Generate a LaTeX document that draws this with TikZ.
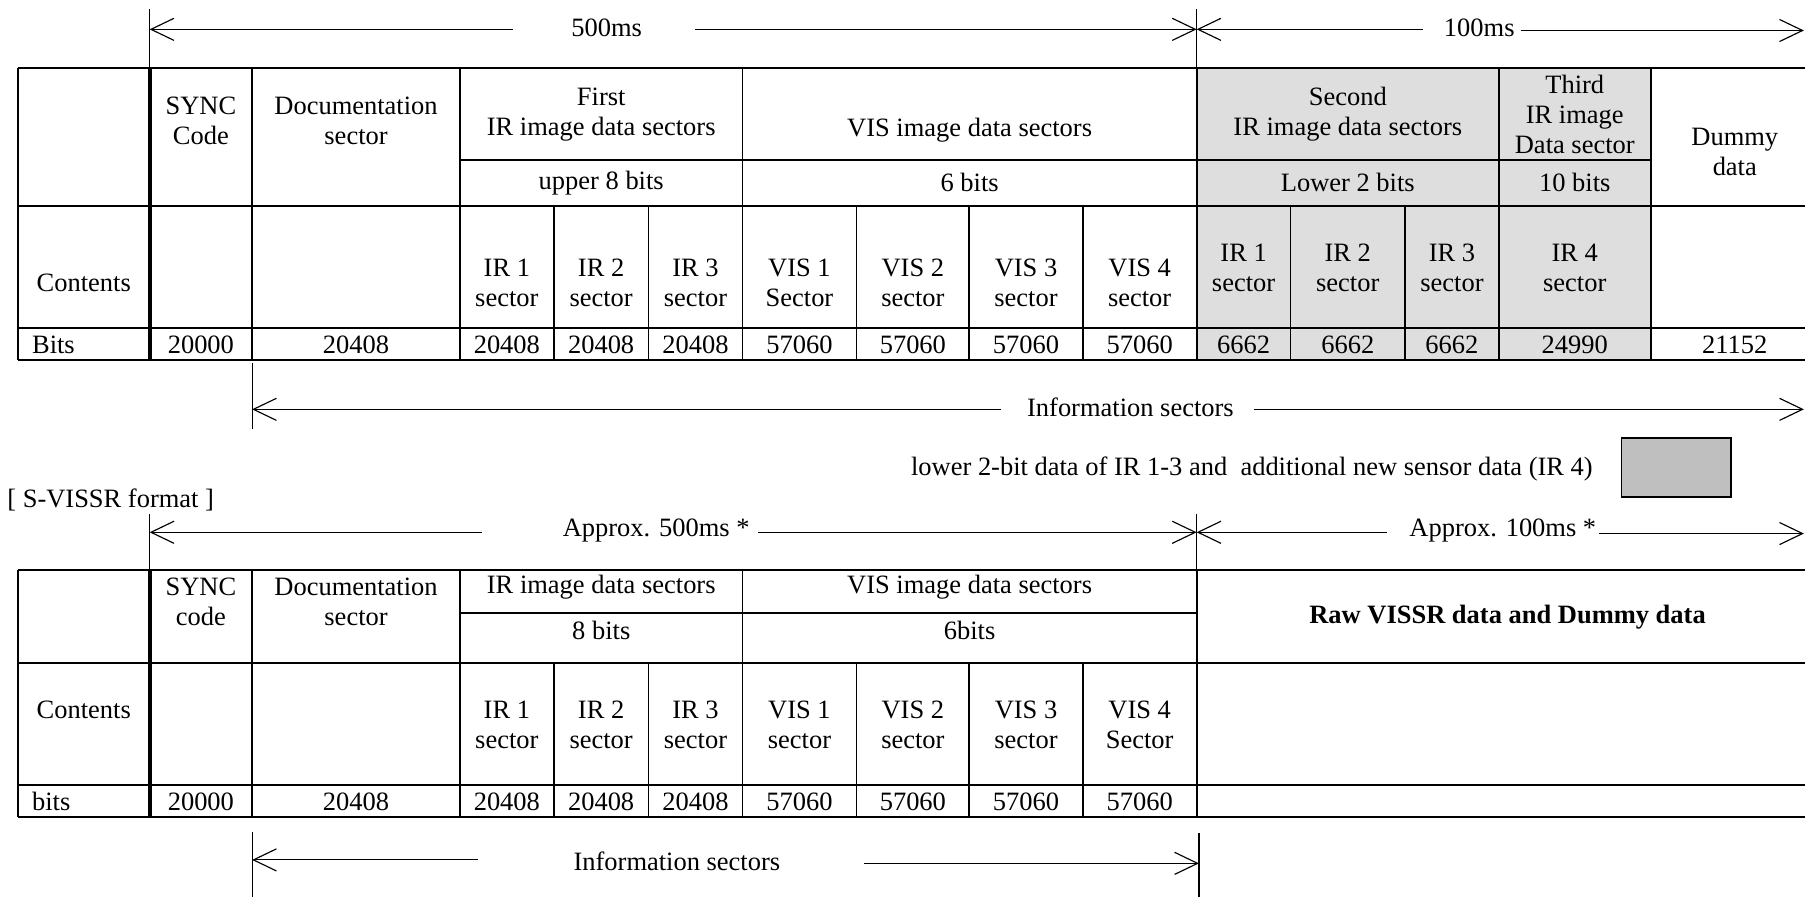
\documentclass[tikz,border=0pt]{standalone}
\usepackage{fontspec}
\setmainfont{Liberation Serif}
\usetikzlibrary{arrows.meta}
\definecolor{cellgray}{HTML}{DEDEDE}
\definecolor{keygray}{HTML}{BFBFBF}
\begin{document}
\begin{tikzpicture}[x=0.5pt,y=-0.5pt,
  tbl/.style={line width=0.8pt},
  thk/.style={line width=1.8pt},
  dim/.style={line width=0.5pt},
  ltip/.style={dim,{Straight Barb[length=10pt,width=9.6pt,line width=0.5pt]}-},
  rtip/.style={dim,-{Straight Barb[length=10pt,width=9.6pt,line width=0.5pt]}},
  txt/.style={inner sep=0pt, font=\fontsize{11.5}{13}\selectfont, align=center},
  ltxt/.style={txt, anchor=west, align=left}]
\useasboundingbox (0,0) rectangle (1568,779);
\clip (0,0) rectangle (1568,779);

% ================= upper table =================
\fill[cellgray] (1039.5,58.8) rectangle (1434,313);
\draw[tbl] (15.5,58.8) -- (1580,58.8);
\draw[tbl] (399.6,139.3) -- (1434,139.3);
\draw[tbl] (15.5,179) -- (1580,179);
\draw[tbl] (15.5,285) -- (1580,285);
\draw[tbl] (15.5,313) -- (1580,313);
\draw[tbl] (15.5,58.8) -- (15.5,313);
\draw[thk] (130,58.8) -- (130,313);
\foreach \x in {219,399.6,645,1039.5,1302,1434} \draw[tbl] (\x,58.8) -- (\x,313);
\foreach \x in {481,563.4,744,842,940.6,1121,1220.6} \draw[tbl] (\x,179) -- (\x,313);

\node[txt] (u-sync) at (174.5,105) {SYNC\\Code};
\node[txt] (u-doc) at (309.3,105) {Documentation\\sector};
\node[txt] (u-first) at (522.3,99.5) {First\\IR image data sectors};
\node[txt] (u-vis) at (842.3,113) {VIS image data sectors};
\node[txt] (u-second) at (1170.8,99.5) {Second\\IR image data sectors};
\node[txt] (u-third) at (1368,99.5) {Third\\IR image\\Data sector};
\node[txt] (u-dummy) at (1507,131.8) {Dummy\\data};
\node[txt] (u-b8) at (522.3,158.7) {upper 8 bits};
\node[txt] (u-b6) at (842.3,158.7) {6 bits};
\node[txt] (u-b2) at (1170.8,158.7) {Lower 2 bits};
\node[txt] (u-b10) at (1368,158.7) {10 bits};
\node[txt] (u-cont) at (72.75,246) {Contents};
\node[txt] (u-ir1) at (440.3,246) {IR 1\\sector};
\node[txt] (u-ir2) at (522.2,246) {IR 2\\sector};
\node[txt] (u-ir3) at (604.2,246) {IR 3\\sector};
\node[txt] (u-vis1) at (694.5,246) {VIS 1\\Sector};
\node[txt] (u-vis2) at (793,246) {VIS 2\\sector};
\node[txt] (u-vis3) at (891.3,246) {VIS 3\\sector};
\node[txt] (u-vis4) at (990,246) {VIS 4\\sector};
\node[txt] (u-gir1) at (1080.3,233) {IR 1\\sector};
\node[txt] (u-gir2) at (1170.8,233) {IR 2\\sector};
\node[txt] (u-gir3) at (1261.3,233) {IR 3\\sector};
\node[txt] (u-gir4) at (1368,233) {IR 4\\sector};
\node[ltxt] (u-bits) at (27.5,299.7) {Bits};
\node[txt] (u-n1) at (174.5,299.7) {20000};
\node[txt] (u-n2) at (309.3,299.7) {20408};
\node[txt] (u-n3) at (440.3,299.7) {20408};
\node[txt] (u-n4) at (522.2,299.7) {20408};
\node[txt] (u-n5) at (604.2,299.7) {20408};
\node[txt] (u-n6) at (694.5,299.7) {57060};
\node[txt] (u-n7) at (793,299.7) {57060};
\node[txt] (u-n8) at (891.3,299.7) {57060};
\node[txt] (u-n9) at (990,299.7) {57060};
\node[txt] (u-n10) at (1080.3,299.7) {6662};
\node[txt] (u-n11) at (1170.8,299.7) {6662};
\node[txt] (u-n12) at (1261.3,299.7) {6662};
\node[txt] (u-n13) at (1368,299.7) {24990};
\node[txt] (u-n14) at (1507,299.7) {21152};

% upper dimension arrows
\draw[dim] (130,8) -- (130,58.8);
\draw[dim] (1039.5,8) -- (1039.5,58.8);
\coordinate (a1L) at (130,25.5);
\coordinate (a1m1) at (445.8,25.5);
\coordinate (a1m2) at (603.7,25.5);
\coordinate (a1R) at (1039.5,25.5);
\coordinate (a2m1) at (1236,25.5);
\coordinate (a2m2) at (1321,26.5);
\coordinate (a2R) at (1567,26.5);
\node[txt] (t500) at (527,24.5) {500ms};
\node[txt] (t100) at (1285,24.5) {100ms};
\draw[ltip] (a1L) -- (a1m1);
\draw[rtip] (a1m2) -- (a1R);
\draw[ltip] (a1R) -- (a2m1);
\draw[rtip] (a2m2) -- (a2R);

% upper information sectors
\draw[dim] (219,315.7) -- (219,372.8);
\coordinate (i1L) at (219,355.6);
\coordinate (i1m1) at (869.6,355.6);
\coordinate (i1m2) at (1089,355.6);
\coordinate (i1R) at (1567,355.6);
\node[txt] (tinfo1) at (982,354) {Information sectors};
\draw[ltip] (i1L) -- (i1m1);
\draw[rtip] (i1m2) -- (i1R);

% legend
\node[txt] (legend) at (1087.5,407.4) {lower 2-bit data of IR 1-3 and\ \ additional new sensor data (IR 4)};
\draw[tbl, fill=keygray] (1408.6,380.8) rectangle (1503.8,431.7);
\node[ltxt] (title) at (6,434) {[ S-VISSR format ]};

% ================= lower table =================
\draw[tbl] (15.5,495.4) -- (1580,495.4);
\draw[tbl] (399.6,532.5) -- (1039.5,532.5);
\draw[tbl] (15.5,575.6) -- (1580,575.6);
\draw[tbl] (15.5,682.2) -- (1580,682.2);
\draw[tbl] (15.5,709.4) -- (1580,709.4);
\draw[tbl] (15.5,495.4) -- (15.5,709.4);
\draw[thk] (130,495.4) -- (130,709.4);
\foreach \x in {219,399.6,645,1039.5} \draw[tbl] (\x,495.4) -- (\x,709.4);
\foreach \x in {481,563.4,744,842,940.6} \draw[tbl] (\x,575.6) -- (\x,709.4);

\node[txt] (l-sync) at (174.5,522.6) {SYNC\\code};
\node[txt] (l-doc) at (309.3,522.6) {Documentation\\sector};
\node[txt] (l-ir) at (522.3,510) {IR image data sectors};
\node[txt] (l-vis) at (842.3,510) {VIS image data sectors};
\node[txt] (l-b8) at (522.3,547.3) {8 bits};
\node[txt] (l-b6) at (842.3,547.3) {6bits};
\node[txt, font=\fontsize{11.5}{13}\selectfont\bfseries] (l-raw) at (1309.6,536.2) {Raw VISSR data and Dummy data};
\node[txt] (l-cont) at (72.75,617) {Contents};
\node[txt] (l-ir1) at (440.3,629.8) {IR 1\\sector};
\node[txt] (l-ir2) at (522.2,629.8) {IR 2\\sector};
\node[txt] (l-ir3) at (604.2,629.8) {IR 3\\sector};
\node[txt] (l-vis1) at (694.5,629.8) {VIS 1\\sector};
\node[txt] (l-vis2) at (793,629.8) {VIS 2\\sector};
\node[txt] (l-vis3) at (891.3,629.8) {VIS 3\\sector};
\node[txt] (l-vis4) at (990,629.8) {VIS 4\\Sector};
\node[ltxt] (l-bits) at (27.5,696.4) {bits};
\node[txt] (l-n1) at (174.5,696.4) {20000};
\node[txt] (l-n2) at (309.3,696.4) {20408};
\node[txt] (l-n3) at (440.3,696.4) {20408};
\node[txt] (l-n4) at (522.2,696.4) {20408};
\node[txt] (l-n5) at (604.2,696.4) {20408};
\node[txt] (l-n6) at (694.5,696.4) {57060};
\node[txt] (l-n7) at (793,696.4) {57060};
\node[txt] (l-n8) at (891.3,696.4) {57060};
\node[txt] (l-n9) at (990,696.4) {57060};

% lower dimension arrows
\draw[dim] (130,446.5) -- (130,495.4);
\draw[dim] (1039.5,446.5) -- (1039.5,495.4);
\coordinate (b1L) at (130,462.4);
\coordinate (b1m1) at (418.4,462.4);
\coordinate (b1m2) at (658.5,462.4);
\coordinate (b1R) at (1039.5,462.4);
\coordinate (b2m1) at (1205,462.4);
\coordinate (b2m2) at (1388.6,463.5);
\coordinate (b2R) at (1567,463.5);
\node[txt] (tap500) at (570,461) {Approx. 500ms *};
\node[txt] (tap100) at (1305.5,461) {Approx. 100ms *};
\draw[ltip] (b1L) -- (b1m1);
\draw[rtip] (b1m2) -- (b1R);
\draw[ltip] (b1R) -- (b2m1);
\draw[rtip] (b2m2) -- (b2R);

% lower information sectors
\draw[dim] (219,722.4) -- (219,779);
\draw[dim] (1041.5,723.7) -- (1041.5,779);
\coordinate (i2L) at (219,747);
\coordinate (i2m1) at (415,747);
\coordinate (i2m2) at (750.6,750);
\coordinate (i2R) at (1041.5,750);
\node[txt] (tinfo2) at (588,748.5) {Information sectors};
\draw[ltip] (i2L) -- (i2m1);
\draw[rtip] (i2m2) -- (i2R);
\end{tikzpicture}
\end{document}
